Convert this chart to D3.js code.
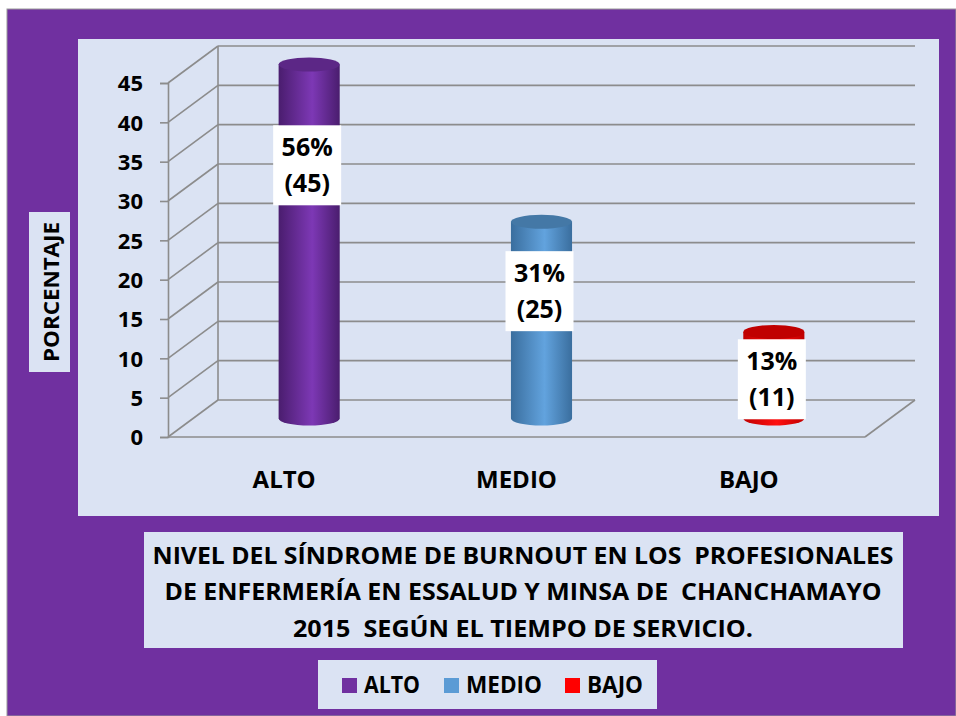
<!DOCTYPE html>
<html>
<head>
<meta charset="utf-8">
<script src="https://cdn.jsdelivr.net/npm/d3@7"></script>
<style>
  body { margin: 0; background: #fff; }
  text { font-family: "Open Sans", "DejaVu Sans", sans-serif; font-weight: bold; fill: #000; white-space: pre; }
</style>
</head>
<body>
<div id="chart"></div>
<script>
// data
var categories = ["ALTO", "MEDIO", "BAJO"];
var values = [45, 25, 11];
var percents = ["56%", "31%", "13%"];
var yTicks = [0, 5, 10, 15, 20, 25, 30, 35, 40, 45];
var titleLines = ["NIVEL DEL SÍNDROME DE BURNOUT EN LOS  PROFESIONALES",
  "DE ENFERMERÍA EN ESSALUD Y MINSA DE  CHANCHAMAYO",
  "2015  SEGÚN EL TIEMPO DE SERVICIO."];
var yTitle = "PORCENTAJE";

var colors = {
  ALTO: {light: "#7D38B5", dark: "#4A1D6E", top: "#5C2786"},
  MEDIO: {light: "#62A3DE", dark: "#3A6E9E", top: "#4478A6"},
  BAJO: {light: "#FF1010", dark: "#C00000", top: "#C00000"}
};
var legendColors = {ALTO: "#7030A0", MEDIO: "#5B9BD5", BAJO: "#FF0000"};

var W = 956, H = 716;
var svg = d3.select("#chart").append("svg")
  .attr("width", W).attr("height", H);

// frame
svg.append("rect").attr("x", 7).attr("y", 9).attr("width", W - 7).attr("height", H - 9)
  .attr("fill", "#7030A0").attr("stroke", "#999").attr("stroke-width", 1);
svg.append("rect").attr("x", 78).attr("y", 39).attr("width", 861).attr("height", 477)
  .attr("fill", "#DBE3F3");

// scales
var x = d3.scaleBand().domain(categories).range([168, 865]);
var y = d3.scaleLinear().domain([0, 45]).range([437, 83]);
var depthX = 50, depthY = -37;

var grid = svg.append("g").attr("stroke", "#8C8C8C").attr("stroke-width", 1.6).attr("fill", "none");
// back wall gridlines + side diagonals
yTicks.forEach(function(t) {
  grid.append("line")
    .attr("x1", 168 + depthX).attr("y1", y(t) + depthY)
    .attr("x2", 865 + depthX).attr("y2", y(t) + depthY);
  grid.append("line")
    .attr("x1", 168).attr("y1", y(t))
    .attr("x2", 168 + depthX).attr("y2", y(t) + depthY);
});
grid.append("line").attr("x1", 168 + depthX).attr("y1", y(45) + depthY)
  .attr("x2", 168 + depthX).attr("y2", y(0) + depthY);
// floor front edge and right side
grid.append("line").attr("x1", 168).attr("y1", y(0)).attr("x2", 865).attr("y2", y(0));
grid.append("line").attr("x1", 865).attr("y1", y(0)).attr("x2", 865 + depthX).attr("y2", y(0) + depthY);

// y axis
var yAxis = svg.append("g").attr("transform", "translate(168,0)")
  .call(d3.axisLeft(y).tickValues(yTicks).tickSize(8).tickPadding(17));
yAxis.select(".domain").attr("stroke", "#8C8C8C").attr("stroke-width", 1.6);
yAxis.selectAll(".tick line").attr("stroke", "#8C8C8C").attr("stroke-width", 1.6);
yAxis.selectAll(".tick text").attr("font-size", 22).attr("font-family", null)
  .attr("dy", "0.36em");

// category labels
svg.selectAll(".cat").data(categories).enter().append("text")
  .attr("class", "cat")
  .attr("x", d => x(d) + x.bandwidth() / 2)
  .attr("y", 488)
  .attr("text-anchor", "middle")
  .attr("font-size", 24)
  .text(d => d);

// gradients
var defs = svg.append("defs");
categories.forEach(function(c) {
  var g = defs.append("linearGradient").attr("id", "g" + c)
    .attr("x1", 0).attr("x2", 1).attr("y1", 0).attr("y2", 0);
  g.append("stop").attr("offset", "0%").attr("stop-color", colors[c].dark);
  g.append("stop").attr("offset", "55%").attr("stop-color", colors[c].light);
  g.append("stop").attr("offset", "100%").attr("stop-color", colors[c].dark);
});

// cylinders
var cw = x.bandwidth() * 0.263, ry = 7;
categories.forEach(function(c, i) {
  var cx = x(c) + x.bandwidth() / 2 + depthX / 2;
  var base = y(0) + depthY / 2;
  var top = y(values[i]) + depthY / 2;
  var l = cx - cw / 2, r = cx + cw / 2;
  svg.append("path")
    .attr("d", `M${l},${top} L${l},${base} A${cw / 2},${ry} 0 0 0 ${r},${base} L${r},${top} Z`)
    .attr("fill", "url(#g" + c + ")");
  svg.append("ellipse").attr("cx", cx).attr("cy", top).attr("rx", cw / 2).attr("ry", ry)
    .attr("fill", colors[c].top);
});

// data labels
categories.forEach(function(c, i) {
  var cx = x(c) + x.bandwidth() / 2 + depthX / 2 - 2;
  var cy = y(values[i] * 0.8) + depthY / 2 + 30;
  svg.append("rect").attr("x", cx - 34).attr("y", cy - 40).attr("width", 68).attr("height", 80)
    .attr("fill", "#fff");
  svg.append("text").attr("x", cx).attr("y", cy - 18).attr("dy", "0.36em")
    .attr("text-anchor", "middle").attr("font-size", 25).text(percents[i]);
  svg.append("text").attr("x", cx).attr("y", cy + 18).attr("dy", "0.36em")
    .attr("text-anchor", "middle").attr("font-size", 25).text("(" + values[i] + ")");
});

// y title
svg.append("rect").attr("x", 29).attr("y", 212).attr("width", 41).attr("height", 160).attr("fill", "#DBE3F3");
svg.append("text")
  .attr("transform", "translate(51,292) rotate(-90)")
  .attr("text-anchor", "middle").attr("dy", "0.36em")
  .attr("font-size", 22)
  .attr("textLength", 140).attr("lengthAdjust", "spacingAndGlyphs")
  .text(yTitle);

// title
svg.append("rect").attr("x", 144).attr("y", 532).attr("width", 759).attr("height", 116).attr("fill", "#DBE3F3");
var titleWidths = [741, 717, 460];
titleLines.forEach(function(t, i) {
  svg.append("text").attr("x", 523).attr("y", 555 + i * 36.5).attr("dy", "0.36em")
    .attr("text-anchor", "middle").attr("font-size", 24)
    .attr("textLength", titleWidths[i]).attr("lengthAdjust", "spacingAndGlyphs")
    .text(t);
});

// legend
svg.append("rect").attr("x", 318).attr("y", 660).attr("width", 339).attr("height", 49).attr("fill", "#DBE3F3");
var legendX = [342, 444, 565];
var legendW = [56, 76, 56];
categories.forEach(function(c, i) {
  svg.append("rect").attr("x", legendX[i]).attr("y", 678).attr("width", 15).attr("height", 15)
    .attr("fill", legendColors[c]);
  svg.append("text").attr("x", legendX[i] + 22).attr("y", 685).attr("dy", "0.36em")
    .attr("font-size", 23)
    .attr("textLength", legendW[i]).attr("lengthAdjust", "spacingAndGlyphs")
    .text(c);
});
</script>
</body>
</html>
